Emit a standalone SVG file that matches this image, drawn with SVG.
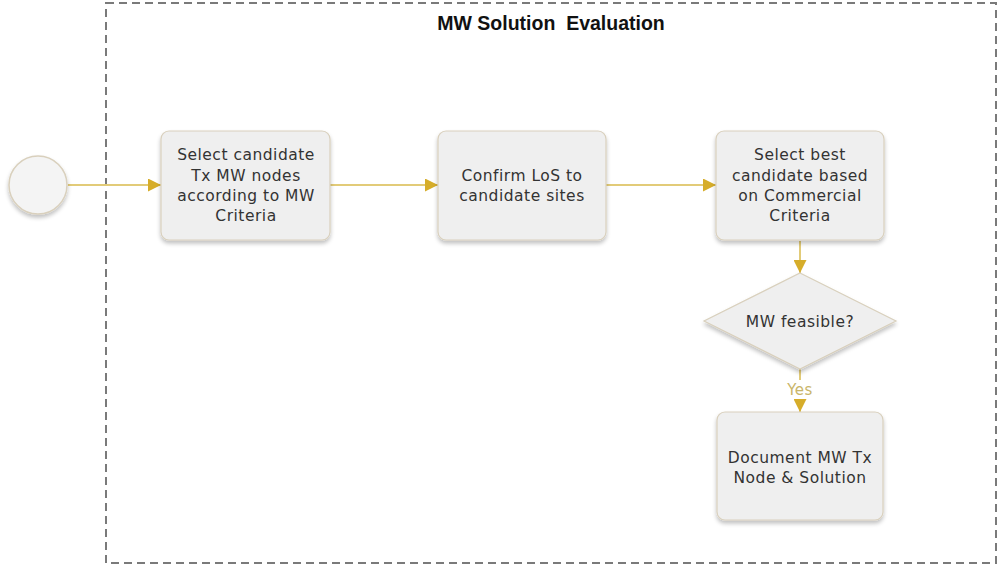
<svg xmlns="http://www.w3.org/2000/svg" width="1000" height="568" viewBox="0 0 1000 568">
<style>
.node{fill:#efefef;stroke:#d9d0bd;stroke-width:1.2}
.lbl{font-family:"DejaVu Sans",Verdana,sans-serif;font-size:15.5px;letter-spacing:0.5px;fill:#333;text-anchor:middle}
.conn{stroke:#e2cb78;stroke-width:2;fill:none}
.title{font-family:"Liberation Sans",Arial,sans-serif;font-weight:bold;font-size:19.5px;fill:#111;text-anchor:middle}
</style>
<defs>
<marker id="ah" viewBox="0 0 10 10" refX="10" refY="5" markerWidth="13" markerHeight="13" markerUnits="userSpaceOnUse" orient="auto">
<path d="M0,0 L10,5 L0,10 z" fill="#d6ad2a"/>
</marker>
<filter id="sh" x="-10%" y="-10%" width="120%" height="130%">
<feGaussianBlur in="SourceAlpha" stdDeviation="2"/>
<feOffset dx="0" dy="3" result="b"/>
<feComponentTransfer><feFuncA type="linear" slope="0.25"/></feComponentTransfer>
<feMerge><feMergeNode/><feMergeNode in="SourceGraphic"/></feMerge>
</filter>
</defs>
<rect x="0" y="0" width="1000" height="568" fill="#ffffff"/>
<g id="container">
<rect x="106" y="3" width="890" height="560" fill="none" stroke="#7a7a7a" stroke-width="2" stroke-dasharray="8,5"/>
<text class="title" x="551" y="30" xml:space="preserve">MW Solution&#160; Evaluation</text>
</g>
<g id="connectors">
<line class="conn" x1="68" y1="185" x2="161" y2="185" marker-end="url(#ah)"/>
<line class="conn" x1="330" y1="185" x2="438" y2="185" marker-end="url(#ah)"/>
<line class="conn" x1="606" y1="185" x2="716" y2="185" marker-end="url(#ah)"/>
<line class="conn" x1="800" y1="241" x2="800" y2="273" marker-end="url(#ah)"/>
<line class="conn" x1="800" y1="369" x2="800" y2="412" marker-end="url(#ah)"/>
<rect x="782" y="380" width="36" height="19" fill="#ffffff"/>
<text x="800" y="395" style="font-family:'DejaVu Sans',Verdana,sans-serif;font-size:15px;letter-spacing:0.5px;fill:#c9b56a;text-anchor:middle">Yes</text>
</g>
<g id="start">
<circle cx="38" cy="185" r="29" fill="#f4f4f4" stroke="#d9d0bd" stroke-width="1.5" filter="url(#sh)"/>
</g>
<g id="n1">
<rect class="node" x="161" y="131" width="169" height="109" rx="8" filter="url(#sh)"/>
<text class="lbl" x="246" y="160">Select candidate</text>
<text class="lbl" x="246" y="181">Tx MW nodes</text>
<text class="lbl" x="246" y="201">according to MW</text>
<text class="lbl" x="246" y="221">Criteria</text>
</g>
<g id="n2">
<rect class="node" x="438" y="131" width="168" height="109" rx="8" filter="url(#sh)"/>
<text class="lbl" x="522" y="181">Confirm LoS to</text>
<text class="lbl" x="522" y="201">candidate sites</text>
</g>
<g id="n3">
<rect class="node" x="716" y="131" width="168" height="109" rx="8" filter="url(#sh)"/>
<text class="lbl" x="800" y="160">Select best</text>
<text class="lbl" x="800" y="181">candidate based</text>
<text class="lbl" x="800" y="201">on Commercial</text>
<text class="lbl" x="800" y="221">Criteria</text>
</g>
<g id="d1">
<polygon class="node" points="800,273 896,321 800,369 704,321" filter="url(#sh)"/>
<text class="lbl" x="800" y="327">MW feasible?</text>
</g>
<g id="n4">
<rect class="node" x="717" y="412" width="166" height="108" rx="8" filter="url(#sh)"/>
<text class="lbl" x="800" y="463">Document MW Tx</text>
<text class="lbl" x="800" y="483">Node &amp; Solution</text>
</g>
</svg>
